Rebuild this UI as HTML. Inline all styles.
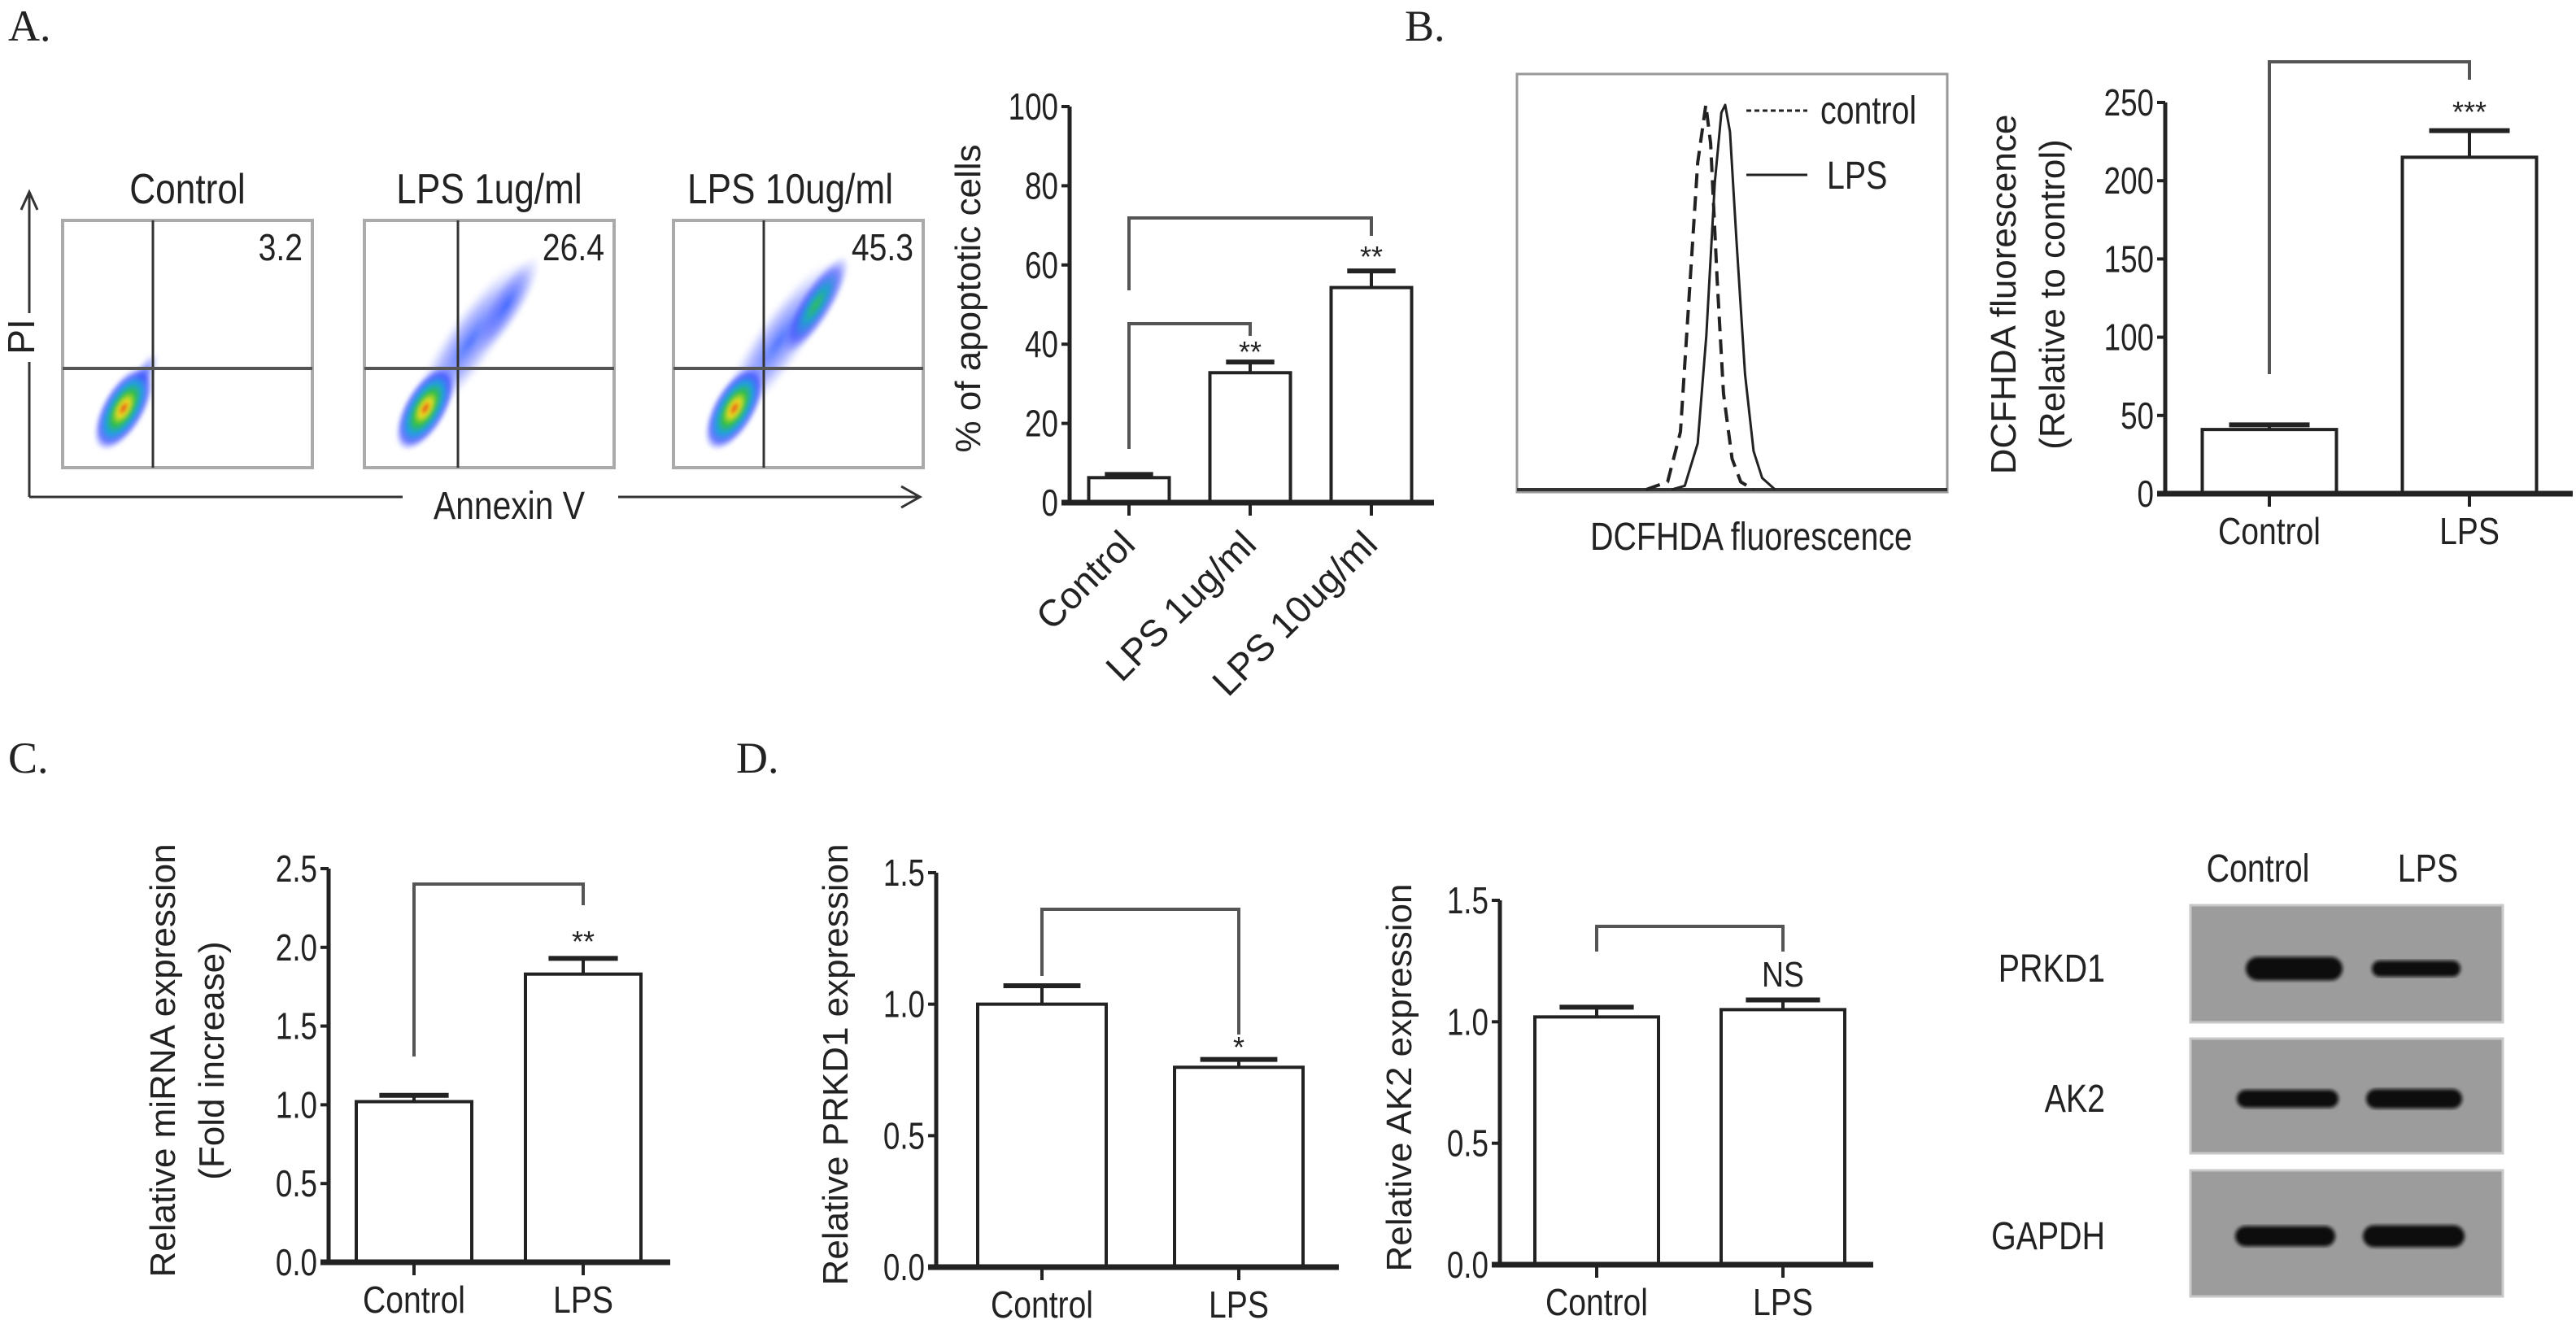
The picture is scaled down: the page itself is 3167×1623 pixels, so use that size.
<!DOCTYPE html>
<html><head><meta charset="utf-8">
<style>
html,body{margin:0;padding:0;background:#fff;}
svg{display:block;font-family:"Liberation Sans",sans-serif;}
</style></head>
<body>
<svg id="fig" width="3167" height="1623" viewBox="0 0 3167 1623" xmlns="http://www.w3.org/2000/svg">
<defs>
  <radialGradient id="dens" cx="50%" cy="50%" r="50%">
    <stop offset="0" stop-color="#e0201a"/>
    <stop offset="0.18" stop-color="#f0e020"/>
    <stop offset="0.38" stop-color="#30c040"/>
    <stop offset="0.6" stop-color="#20a0e0"/>
    <stop offset="0.8" stop-color="#3040ff" stop-opacity="0.7"/>
    <stop offset="1" stop-color="#6070ff" stop-opacity="0"/>
  </radialGradient>
  <radialGradient id="densG" cx="50%" cy="50%" r="50%">
    <stop offset="0" stop-color="#30c050"/>
    <stop offset="0.35" stop-color="#20a0d0"/>
    <stop offset="0.7" stop-color="#3040ff" stop-opacity="0.6"/>
    <stop offset="1" stop-color="#6070ff" stop-opacity="0"/>
  </radialGradient>
  <radialGradient id="densB" cx="50%" cy="50%" r="50%">
    <stop offset="0" stop-color="#2050ff" stop-opacity="0.8"/>
    <stop offset="0.6" stop-color="#5060ff" stop-opacity="0.4"/>
    <stop offset="1" stop-color="#8090ff" stop-opacity="0"/>
  </radialGradient>
  <filter id="blur2"><feGaussianBlur stdDeviation="2"/></filter>
  <filter id="blur3"><feGaussianBlur stdDeviation="3"/></filter>
</defs>
<g id="root"></g>
</svg>
<script>
// ---------- Panel A bar chart data ----------
const aCats = ["Control", "LPS 1ug/ml", "LPS 10ug/ml"];
const aVals = [6.3, 32.8, 54.3];
const aErrs = [0.8, 2.7, 4.2];
const aTicks = [0, 20, 40, 60, 80, 100];
// ---------- Panel B bar chart data ----------
const bCats = ["Control", "LPS"];
const bVals = [41, 215];
const bErrs = [3, 17];
const bTicks = [0, 50, 100, 150, 200, 250];
// ---------- Panel C ----------
const cCats = ["Control", "LPS"];
const cVals = [1.02, 1.83];
const cErrs = [0.04, 0.1];
const cTicks = [0.0, 0.5, 1.0, 1.5, 2.0, 2.5];
// ---------- Panel D PRKD1 ----------
const dpCats = ["Control", "LPS"];
const dpVals = [1.0, 0.76];
const dpErrs = [0.07, 0.03];
const dpTicks = [0.0, 0.5, 1.0, 1.5];
// ---------- Panel D AK2 ----------
const daCats = ["Control", "LPS"];
const daVals = [1.02, 1.05];
const daErrs = [0.04, 0.04];
const daTicks = [0.0, 0.5, 1.0, 1.5];
// ---------- Histogram (fraction of x range, relative height) ----------
const histControlX = [0.30, 0.35, 0.38, 0.40, 0.42, 0.439, 0.45, 0.465, 0.48, 0.50, 0.52, 0.55];
const histControlY = [0, 0.02, 0.15, 0.5, 0.85, 1.0, 0.9, 0.55, 0.25, 0.08, 0.02, 0];
const histLpsX = [0.36, 0.39, 0.42, 0.44, 0.46, 0.475, 0.484, 0.495, 0.51, 0.53, 0.55, 0.57, 0.60];
const histLpsY = [0, 0.01, 0.12, 0.4, 0.8, 0.98, 1.0, 0.93, 0.65, 0.3, 0.1, 0.03, 0];
// ---------- Flow numbers ----------
const flowTitles = ["Control", "LPS 1ug/ml", "LPS 10ug/ml"];
const flowPcts = ["3.2", "26.4", "45.3"];

const NS = "http://www.w3.org/2000/svg";
const root = document.getElementById("root");
function el(tag, attrs, parent, text) {
  const e = document.createElementNS(NS, tag);
  for (const k in attrs) e.setAttribute(k, attrs[k]);
  if (text !== undefined) e.textContent = text;
  (parent || root).appendChild(e);
  return e;
}

// Panel letters
[["A.", 10, 50], ["B.", 1727, 50], ["C.", 10, 950], ["D.", 905, 950]].forEach(function (p) {
  const t = el("text", {x: p[1], y: p[2], "font-family": "Liberation Serif,serif", "font-size": 54, fill: "#222"}, root, p[0]);
  
  
});

// ---------- Flow plots ----------
const flowG = el("g", {});


const boxLefts = [77, 448, 828];
const boxW = 307, boxTop = 271, boxBot = 575, gateY = 453;
const gateOff = [111, 115, 111];
for (let i = 0; i < 3; i++) {
  const g = el("g", {}, flowG);
  
  
  const L = boxLefts[i];
  const bx = el("rect", {x: L, y: boxTop, width: boxW, height: boxBot - boxTop, fill: "#fff", stroke: "#aaa", "stroke-width": 4}, g);
  
  
  const dg = el("g", {}, g);
  
  
  const cx = L + 75, cy = 502;
  if (i > 0) {
    el("ellipse", {cx: L + 130, cy: 420, rx: 120, ry: 30, fill: "url(#densB)", transform: "rotate(-55 " + (L + 130) + " 420)", filter: "url(#blur3)"}, dg);
    el("ellipse", {cx: L + 175, cy: 375, rx: 70, ry: 20, fill: i === 2 ? "url(#densG)" : "url(#densB)", transform: "rotate(-58 " + (L + 175) + " 375)", filter: "url(#blur2)"}, dg);
  } else {
    el("ellipse", {cx: L + 100, cy: 460, rx: 30, ry: 10, fill: "url(#densB)", transform: "rotate(-60 " + (L + 100) + " 460)", filter: "url(#blur3)"}, dg);
  }
  el("ellipse", {cx: cx, cy: cy, rx: 58, ry: 26, fill: "url(#dens)", transform: "rotate(-60 " + cx + " " + cy + ")", filter: "url(#blur2)"}, dg);
  el("line", {x1: L + gateOff[i], y1: boxTop, x2: L + gateOff[i], y2: boxBot, stroke: "#333", "stroke-width": 3}, g);
  el("line", {x1: L, y1: gateY, x2: L + boxW, y2: gateY, stroke: "#555", "stroke-width": 4}, g);
  const mx = L + boxW / 2 + (i === 2 ? -10 : 0);
  const tt = el("text", {x: mx, y: 250, "text-anchor": "middle", "font-size": 52, fill: "#222", transform: "translate(" + mx + " 0) scale(0.85 1) translate(" + (-mx) + " 0)"}, g, flowTitles[i]);
  
  
  const pt = el("text", {x: L + boxW - 12, y: 320, "text-anchor": "end", "font-size": 46, fill: "#222", transform: "translate(" + (L + boxW - 12) + " 0) scale(0.85 1) translate(" + (-(L + boxW - 12)) + " 0)"}, g, flowPcts[i]);
  
  
}
const axG = el("g", {stroke: "#333", "stroke-width": 3, fill: "none"}, flowG);


el("line", {x1: 36, y1: 240, x2: 36, y2: 385}, axG);
el("line", {x1: 36, y1: 445, x2: 36, y2: 611}, axG);
el("polyline", {points: "26,258 36,236 46,258"}, axG);
el("line", {x1: 36, y1: 611, x2: 495, y2: 611}, axG);
el("line", {x1: 760, y1: 611, x2: 1130, y2: 611}, axG);
el("polyline", {points: "1108,598 1131,611 1108,624"}, axG);
const piT = el("text", {x: 0, y: 0, "font-size": 46, fill: "#222", "text-anchor": "middle", transform: "translate(42 414) rotate(-90)"}, flowG, "PI");


const anT = el("text", {x: 626, y: 638, "font-size": 48, fill: "#222", "text-anchor": "middle", transform: "translate(626 0) scale(0.85 1) translate(-626 0)"}, flowG, "Annexin V");



// ---------- Bar chart helper ----------
function barChart(name, cfg, cats, vals, errs, ticks) {
  const g = el("g", {});
  
  
  const ymax = ticks[ticks.length - 1];
  const Y = v => cfg.y0 - (v / ymax) * (cfg.y0 - cfg.yTop);
  el("line", {x1: cfg.ax, y1: cfg.yTop, x2: cfg.ax, y2: cfg.y0, stroke: "#222", "stroke-width": 5}, g);
  ticks.forEach(function (t) {
    el("line", {x1: cfg.ax - 10, y1: Y(t), x2: cfg.ax, y2: Y(t), stroke: "#222", "stroke-width": 4}, g);
    const tl = el("text", {x: cfg.ax - 14, y: Y(t) + 16, "text-anchor": "end", "font-size": 46, fill: "#222", transform: "translate(" + (cfg.ax - 14) + " 0) scale(0.8 1) translate(" + (-(cfg.ax - 14)) + " 0)"}, g, cfg.dec ? t.toFixed(cfg.dec) : String(t));
    
    
  });
  cats.forEach(function (c, i) {
    const cx = cfg.x0 + i * cfg.step;
    const b = el("rect", {x: cx - cfg.bw / 2, y: Y(vals[i]), width: cfg.bw, height: cfg.y0 - Y(vals[i]), fill: "#fff", stroke: "#222", "stroke-width": 4}, g);
    
    
    const et = Y(vals[i] + errs[i]);
    el("line", {x1: cx, y1: Y(vals[i]), x2: cx, y2: et, stroke: "#222", "stroke-width": 4}, g);
    const cap = el("line", {x1: cx - cfg.bw * 0.3, y1: et, x2: cx + cfg.bw * 0.3, y2: et, stroke: "#222", "stroke-width": 6}, g);
    
    
    el("line", {x1: cx, y1: cfg.y0, x2: cx, y2: cfg.y0 + 16, stroke: "#222", "stroke-width": 4}, g);
    let lab;
    if (cfg.rot) {
      lab = el("text", {x: 0, y: 0, "text-anchor": "end", "font-size": 46, fill: "#222", transform: "translate(" + (cx + 10) + " " + (cfg.y0 + 54) + ") rotate(-45)"}, g, c);
    } else {
      lab = el("text", {x: cx, y: cfg.y0 + 62, "text-anchor": "middle", "font-size": 46, fill: "#222", transform: "translate(" + cx + " 0) scale(0.85 1) translate(" + (-cx) + " 0)"}, g, c);
    }
    
    
  });
  el("line", {x1: cfg.ax - 10, y1: cfg.y0, x2: cfg.axEnd, y2: cfg.y0, stroke: "#222", "stroke-width": 7}, g);
  const tg = el("g", {transform: "translate(" + cfg.titleX + " " + cfg.titleY + ") rotate(-90)"}, g);
  cfg.title.forEach(function (line, k) {
    const yt = el("text", {x: 0, y: k * 60, "text-anchor": "middle", "font-size": 44, fill: "#222"}, tg, line);
    
    
  });
  (cfg.brackets || []).forEach(function (br) {
    const xa = cfg.x0 + br[0] * cfg.step, xb = cfg.x0 + br[1] * cfg.step;
    const bk = el("polyline", {points: xa + "," + br[3] + " " + xa + "," + br[2] + " " + xb + "," + br[2] + " " + xb + "," + br[4], fill: "none", stroke: "#555", "stroke-width": 4}, g);
    
    
    const st = el("text", {x: xb, y: br[6], "text-anchor": "middle", "font-size": br[5] === "NS" ? 44 : 36, fill: "#222", transform: br[5] === "NS" ? "translate(" + xb + " 0) scale(0.85 1) translate(" + (-xb) + " 0)" : ""}, g, br[5]);
    
    
  });
  return g;
}

barChart("apoptosis-bar-chart", {ax: 1315, axEnd: 1763, yTop: 131, y0: 618, x0: 1388, step: 149, bw: 99, rot: true,
  title: ["% of apoptotic cells"], titleX: 1205, titleY: 367,
  brackets: [[0, 1, 398, 552, 413, "**", 445], [0, 2, 268, 357, 290, "**", 328]]}, aCats, aVals, aErrs, aTicks);

barChart("dcfhda-bar-chart", {ax: 2662, axEnd: 3163, yTop: 126, y0: 607, x0: 2790, step: 246, bw: 165,
  title: ["DCFHDA fluorescence", "(Relative to control)"], titleX: 2478, titleY: 362,
  brackets: [[0, 1, 76, 460, 98, "***", 150]]}, bCats, bVals, bErrs, bTicks);

barChart("mirna-bar-chart", {ax: 404, axEnd: 824, yTop: 1068, y0: 1552, x0: 509, step: 208, bw: 142, dec: 1,
  title: ["Relative miRNA expression", "(Fold increase)"], titleX: 215, titleY: 1304,
  brackets: [[0, 1, 1087, 1299, 1113, "**", 1170]]}, cCats, cVals, cErrs, cTicks);

barChart("prkd1-bar-chart", {ax: 1151, axEnd: 1646, yTop: 1073, y0: 1558, x0: 1281, step: 242, bw: 158, dec: 1,
  title: ["Relative PRKD1 expression"], titleX: 1042, titleY: 1309,
  brackets: [[0, 1, 1118, 1200, 1272, "*", 1300]]}, dpCats, dpVals, dpErrs, dpTicks);

barChart("ak2-bar-chart", {ax: 1844, axEnd: 2303, yTop: 1107, y0: 1555, x0: 1963, step: 229, bw: 152, dec: 1,
  title: ["Relative AK2 expression"], titleX: 1735, titleY: 1325,
  brackets: [[0, 1, 1139, 1170, 1170, "NS", 1213]]}, daCats, daVals, daErrs, daTicks);

// ---------- Histogram ----------
const hG = el("g", {});


const hx0 = 1865, hx1 = 2394, hTop = 91, hBase = 602, hPeak = 129;
el("rect", {x: hx0, y: hTop, width: hx1 - hx0, height: 605 - hTop, fill: "none", stroke: "#999", "stroke-width": 3}, hG);
el("line", {x1: hx0, y1: hBase, x2: hx1, y2: hBase, stroke: "#333", "stroke-width": 4}, hG);
const HX = f => hx0 + f * (hx1 - hx0);
const HY = h => hBase - h * (hBase - hPeak);
function pts(xs, ys) { return xs.map((x, i) => HX(x).toFixed(1) + "," + HY(ys[i]).toFixed(1)).join(" "); }
const hc = el("polyline", {points: pts(histControlX, histControlY), fill: "none", stroke: "#222", "stroke-width": 4, "stroke-dasharray": "18 10", "stroke-linejoin": "round"}, hG);


const hl = el("polyline", {points: pts(histLpsX, histLpsY), fill: "none", stroke: "#222", "stroke-width": 3, "stroke-linejoin": "round"}, hG);


const lg = el("g", {}, hG);


el("line", {x1: 2147, y1: 136, x2: 2222, y2: 136, stroke: "#222", "stroke-width": 3, "stroke-dasharray": "6 4"}, lg);
el("text", {x: 2238, y: 152, "font-size": 48, fill: "#222", transform: "translate(2238 0) scale(0.82 1) translate(-2238 0)"}, lg, "control");
el("line", {x1: 2147, y1: 215, x2: 2222, y2: 215, stroke: "#222", "stroke-width": 3}, lg);
el("text", {x: 2246, y: 232, "font-size": 48, fill: "#222", transform: "translate(2246 0) scale(0.82 1) translate(-2246 0)"}, lg, "LPS");
const hxT = el("text", {x: 2153, y: 676, "text-anchor": "middle", "font-size": 48, fill: "#222", transform: "translate(2153 0) scale(0.82 1) translate(-2153 0)"}, hG, "DCFHDA fluorescence");



// ---------- Western blot ----------
const wG = el("g", {});


const blotRows = ["PRKD1", "AK2", "GAPDH"];
const rowTops = [1113, 1277, 1439], rowBots = [1257, 1418, 1594], bandY = [1191, 1351, 1520];
const bandCtl = [[2761, 2880, 29], [2750, 2875, 22], [2748, 2871, 25]];
const bandLps = [[2916, 3025, 20], [2909, 3027, 24], [2905, 3030, 27]];
el("text", {x: 2776, y: 1084, "text-anchor": "middle", "font-size": 48, fill: "#222", transform: "translate(2776 0) scale(0.82 1) translate(-2776 0)"}, wG, "Control");
el("text", {x: 2985, y: 1084, "text-anchor": "middle", "font-size": 48, fill: "#222", transform: "translate(2985 0) scale(0.82 1) translate(-2985 0)"}, wG, "LPS");
blotRows.forEach(function (r, i) {
  const rg = el("g", {}, wG);
  
  
  el("rect", {x: 2693, y: rowTops[i], width: 384, height: rowBots[i] - rowTops[i], fill: "#9c9c9c", stroke: "#c8c8c8", "stroke-width": 3}, rg);
  [bandCtl[i], bandLps[i]].forEach(function (b) {
    el("rect", {x: b[0], y: bandY[i] - b[2] / 2, width: b[1] - b[0], height: b[2], rx: b[2] / 2, fill: "#0a0a0a", filter: "url(#blur2)"}, rg);
  });
  el("text", {x: 2588, y: bandY[i] + 16, "text-anchor": "end", "font-size": 48, fill: "#222", transform: "translate(2588 0) scale(0.82 1) translate(-2588 0)"}, rg, r);
});
</script>
</body></html>
